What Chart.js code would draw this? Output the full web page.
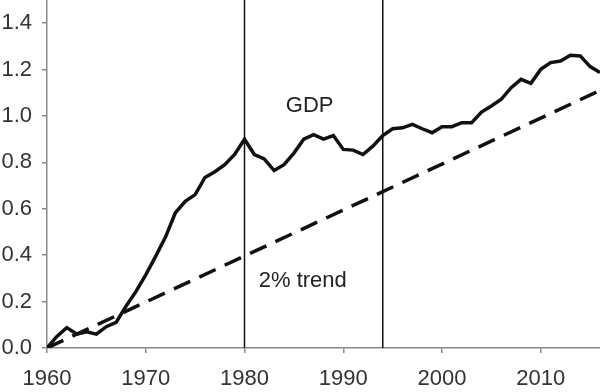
<!DOCTYPE html>
<html>
<head>
<meta charset="utf-8">
<script src="https://cdn.jsdelivr.net/npm/chart.js@4.4.1/dist/chart.umd.min.js"></script>
<style>
  html, body { margin: 0; padding: 0; background: #fff; }
  #wrap { width: 600px; height: 392px; }
</style>
</head>
<body>
<div id="wrap"><canvas id="gdpChart"></canvas></div>
<script>
// GDP path, one value a year from 1960 to 2016
var years = [];
for (var y = 1960; y <= 2016; y++) years.push(y);
var gdp = [0.00, 0.05, 0.088, 0.06, 0.07, 0.06, 0.092, 0.11, 0.18, 0.243,
           0.315, 0.395, 0.478, 0.583, 0.632, 0.661, 0.735, 0.76, 0.79, 0.834,
           0.90, 0.834, 0.815, 0.765, 0.79, 0.84, 0.90, 0.92, 0.90, 0.916,
           0.856, 0.853, 0.834, 0.87, 0.916, 0.945, 0.949, 0.964, 0.945, 0.928,
           0.954, 0.954, 0.971, 0.971, 1.017, 1.043, 1.072, 1.122, 1.158, 1.141,
           1.201, 1.23, 1.237, 1.262, 1.259, 1.213, 1.187];

// 2% trend line end points
var trendYears = [1960, 2016];
var trendValues = [0, 1.11];

// vertical markers
var markerYears = [1980, 1994];

var xTicks = [1960, 1970, 1980, 1990, 2000, 2010];
var yTicks = [0, 0.2, 0.4, 0.6, 0.8, 1.0, 1.2, 1.4];

// text labels inside the plot
var notes = [
  { text: 'GDP', x: 1986.6, y: 1.044 },
  { text: '2% trend', x: 1985.9, y: 0.287 }
];

var fontFamily = '"Liberation Sans", Arial, Helvetica, sans-serif';

var datasets = [
  {
    label: 'GDP',
    data: years.map(function(yr, i) { return { x: yr, y: gdp[i] }; }),
    borderColor: '#111',
    borderWidth: 3.5,
    pointRadius: 0,
    tension: 0
  },
  {
    label: '2% trend',
    data: trendYears.map(function(yr, i) { return { x: yr, y: trendValues[i] }; }),
    borderColor: '#111',
    borderWidth: 3.5,
    borderDash: [18, 10],
    pointRadius: 0
  }
];
markerYears.forEach(function(yr) {
  datasets.push({
    label: 'marker ' + yr,
    data: [{ x: yr, y: 0 }, { x: yr, y: 1.5 }],
    borderColor: '#111',
    borderWidth: 1.5,
    pointRadius: 0
  });
});

var notePlugin = {
  id: 'notes',
  afterDatasetsDraw: function(chart) {
    var ctx = chart.ctx;
    ctx.save();
    ctx.font = '22px ' + fontFamily;
    ctx.fillStyle = '#222';
    ctx.textAlign = 'center';
    ctx.textBaseline = 'middle';
    notes.forEach(function(n) {
      ctx.fillText(n.text, chart.scales.x.getPixelForValue(n.x), chart.scales.y.getPixelForValue(n.y));
    });
    ctx.restore();
  }
};

new Chart(document.getElementById('gdpChart'), {
  type: 'line',
  data: { datasets: datasets },
  plugins: [notePlugin],
  options: {
    responsive: true,
    maintainAspectRatio: false,
    animation: false,
    layout: { padding: 0 },
    plugins: { legend: { display: false }, tooltip: { enabled: false } },
    scales: {
      x: {
        type: 'linear',
        min: 1960,
        max: 2016,
        afterBuildTicks: function(axis) {
          axis.ticks = xTicks.map(function(v) { return { value: v }; });
        },
        afterFit: function(axis) {
          axis.height = 44;
          axis.paddingLeft = 0;
          axis.paddingRight = 0;
        },
        ticks: {
          color: '#333',
          font: { family: fontFamily, size: 22 },
          padding: 13,
          maxRotation: 0,
          callback: function(v) { return String(v); }
        },
        grid: { drawOnChartArea: false, drawTicks: true, tickLength: 5, color: '#888', lineWidth: 1.5 },
        border: { display: true, color: '#888', width: 1.5 }
      },
      y: {
        min: 0,
        max: 1.5,
        afterBuildTicks: function(axis) {
          axis.ticks = yTicks.map(function(v) { return { value: v }; });
        },
        afterFit: function(axis) {
          axis.width = 47;
          axis.paddingTop = 0;
          axis.paddingBottom = 0;
        },
        ticks: {
          color: '#333',
          font: { family: fontFamily, size: 22 },
          padding: 10,
          callback: function(v) { return v.toFixed(1); }
        },
        grid: { drawOnChartArea: false, drawTicks: true, tickLength: 5, color: '#888', lineWidth: 1.5 },
        border: { display: true, color: '#888', width: 1.5 }
      }
    }
  }
});
</script>
</body>
</html>
